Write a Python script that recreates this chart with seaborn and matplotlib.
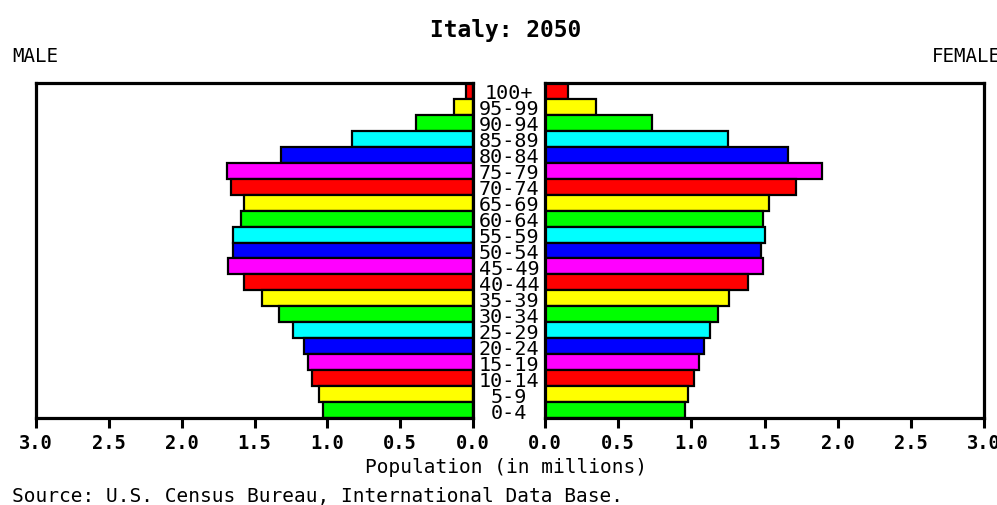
import matplotlib
matplotlib.use('Agg')
import matplotlib.pyplot as plt
import seaborn as sns
import pandas as pd

ages = ['100+', '95-99', '90-94', '85-89', '80-84', '75-79', '70-74', '65-69', '60-64', '55-59',
        '50-54', '45-49', '40-44', '35-39', '30-34', '25-29', '20-24', '15-19', '10-14', '5-9', '0-4']
male = [0.05, 0.13, 0.39, 0.83, 1.32, 1.69, 1.66, 1.57, 1.59, 1.645, 1.65,
        1.68, 1.57, 1.45, 1.33, 1.235, 1.16, 1.13, 1.105, 1.06, 1.03]
female = [0.16, 0.35, 0.73, 1.25, 1.66, 1.89, 1.715, 1.53, 1.49, 1.505, 1.475,
          1.49, 1.39, 1.255, 1.185, 1.13, 1.085, 1.055, 1.015, 0.975, 0.96]
ticks = [0.0, 0.5, 1.0, 1.5, 2.0, 2.5, 3.0]
tick_labels = ['0.0', '0.5', '1.0', '1.5', '2.0', '2.5', '3.0']

# colour cycle from the top bar down
cycle = ['#ff0000', '#ffff00', '#00ff00', '#00ffff', '#0000ff', '#ff00ff']
colors = [cycle[i % 6] for i in range(len(ages))]

df = pd.DataFrame({'age': ages, 'male': male, 'female': female})

sns.set_style('white')
plt.rcParams['font.family'] = ['DejaVu Sans Mono', 'DejaVu Sans']
plt.rcParams['text.color'] = 'black'
plt.rcParams['xtick.color'] = 'black'
plt.rcParams['ytick.color'] = 'black'
plt.rcParams['axes.labelcolor'] = 'black'

fig = plt.figure(figsize=(9.97, 5.06), dpi=100)
ax_m = fig.add_axes([36 / 997, 1 - 419 / 506, 437 / 997, 335 / 506])
ax_f = fig.add_axes([545 / 997, 1 - 419 / 506, 439 / 997, 335 / 506])

for ax, col in [(ax_m, 'male'), (ax_f, 'female')]:
    sns.barplot(data=df, x=col, y='age', hue='age', palette=colors, legend=False,
                width=1.0, edgecolor='black', linewidth=1.6, saturation=1, ax=ax)
    ax.set_xlim(0, 3)
    ax.set_ylim(len(ages) - 0.5, -0.5)
    ax.set_xticks(ticks)
    ax.set_xticklabels(tick_labels, fontsize=13.5, fontweight='bold')
    ax.tick_params(axis='x', direction='out', length=7, width=2.2, bottom=True, pad=4)
    ax.set_xlabel('')
    ax.set_ylabel('')
    for s in ax.spines.values():
        s.set_linewidth(2.3)
        s.set_color('black')
        s.set_visible(True)

ax_m.invert_xaxis()
ax_m.set_yticks([])
ax_f.set_yticks(range(len(ages)))
ax_f.set_yticklabels(ages, ha='center', fontsize=14.5)
ax_f.tick_params(axis='y', length=0, pad=26)

fig.text(506 / 997, 1 - 30 / 506, 'Italy: 2050', ha='center', va='center',
         fontsize=16.5, fontweight='bold')
fig.text(12 / 997, 1 - 57 / 506, 'MALE', ha='left', va='center', fontsize=13.8)
fig.text(932 / 997, 1 - 57 / 506, 'FEMALE', ha='left', va='center', fontsize=13.8)
fig.text(506 / 997, 1 - 468 / 506, 'Population (in millions)', ha='center', va='center', fontsize=14)
fig.text(12 / 997, 1 - 497 / 506, 'Source: U.S. Census Bureau, International Data Base.',
         ha='left', va='center', fontsize=14)

fig.savefig('out.png', dpi=100)
